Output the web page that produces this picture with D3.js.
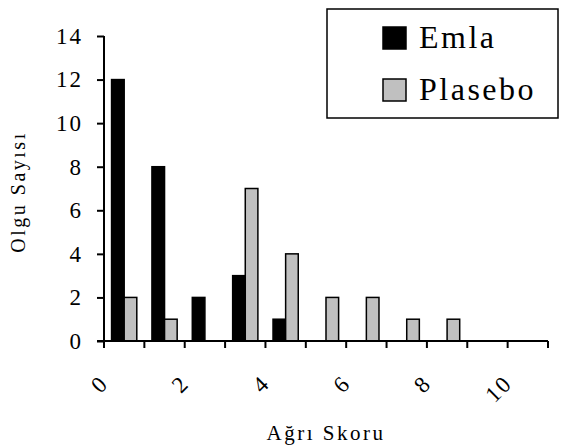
<!DOCTYPE html>
<html>
<head>
<meta charset="utf-8">
<script src="https://cdn.jsdelivr.net/npm/d3@7"></script>
<style>
  body { margin: 0; background: #fff; }
</style>
</head>
<body>
<script>
// data
var categories = [0, 1, 2, 3, 4, 5, 6, 7, 8, 9, 10];
var series = ["Emla", "Plasebo"];
var emla = [12, 8, 2, 3, 1, 0, 0, 0, 0, 0, 0];
var plasebo = [2, 1, 0, 7, 4, 2, 2, 1, 1, 0, 0];
var yTicks = [0, 2, 4, 6, 8, 10, 12, 14];
var xLabels = [0, 2, 4, 6, 8, 10];
var colors = { Emla: "#000000", Plasebo: "#c0c0c0" };

var width = 578, height = 446;
var margin = { top: 36, right: 30, bottom: 105, left: 104 };
var serif = "'Liberation Serif', 'Times New Roman', serif";

var svg = d3.select("body").append("svg")
    .attr("width", width)
    .attr("height", height);

var x = d3.scaleBand()
    .domain(categories)
    .range([margin.left, 548])
    .padding(0);

var x1 = d3.scaleBand()
    .domain(series)
    .range([0, x.bandwidth()])
    .paddingInner(0)
    .paddingOuter(0.6);

var y = d3.scaleLinear()
    .domain([0, 14])
    .range([341, margin.top]);

var rows = categories.map(function (c, i) {
    return { cat: c, values: [{ key: "Emla", v: emla[i] }, { key: "Plasebo", v: plasebo[i] }] };
});

// bars
var g = svg.append("g");
g.selectAll(".grp")
  .data(rows)
  .enter().append("g")
    .attr("class", "grp")
    .attr("transform", function (d) { return "translate(" + x(d.cat) + ",0)"; })
  .selectAll("rect")
  .data(function (d) { return d.values.filter(function (e) { return e.v > 0; }); })
  .enter().append("rect")
    .attr("x", function (d) { return x1(d.key); })
    .attr("y", function (d) { return y(d.v); })
    .attr("width", x1.bandwidth())
    .attr("height", function (d) { return y(0) - y(d.v); })
    .style("fill", function (d) { return colors[d.key]; })
    .style("stroke", "#000")
    .style("stroke-width", 1.5);

// y axis
var yAxis = svg.append("g")
    .attr("transform", "translate(" + margin.left + ",0)")
    .call(d3.axisLeft(y).tickValues(yTicks).tickSize(7).tickPadding(14).tickFormat(d3.format("d")));
yAxis.select(".domain").attr("stroke-width", 2).attr("d", "M0," + y(14) + "V" + y(0));
yAxis.selectAll(".tick line").attr("stroke-width", 2);
yAxis.selectAll(".tick text")
    .style("font-size", "23px")
    .style("letter-spacing", "2px");

// x axis: ticks at band edges
var edges = categories.map(function (c) { return x(c); }).concat([x.range()[1]]);
var xAxis = svg.append("g");
xAxis.append("line")
    .attr("x1", margin.left - 7).attr("x2", x.range()[1])
    .attr("y1", y(0)).attr("y2", y(0))
    .attr("stroke", "#000").attr("stroke-width", 2);
xAxis.selectAll(".xt")
  .data(edges)
  .enter().append("line")
    .attr("class", "xt")
    .attr("x1", function (d) { return d; }).attr("x2", function (d) { return d; })
    .attr("y1", y(0)).attr("y2", y(0) + 7)
    .attr("stroke", "#000").attr("stroke-width", 2);

xAxis.selectAll(".xl")
  .data(xLabels)
  .enter().append("text")
    .attr("class", "xl")
    .attr("transform", function (d) {
        return "translate(" + (x(d) + x.bandwidth() / 2 - 20) + ",379) rotate(-45)";
    })
    .attr("text-anchor", "end")
    .attr("dy", "0.35em")
    .style("font-size", "23px")
    .style("letter-spacing", "2px")
    .text(function (d) { return d; });

// titles
svg.append("text")
    .attr("x", 326).attr("y", 440)
    .attr("text-anchor", "middle")
    .style("font-size", "21px")
    .style("letter-spacing", "2.5px")
    .text("Ağrı Skoru");

svg.append("text")
    .attr("transform", "translate(25,192) rotate(-90)")
    .attr("text-anchor", "middle")
    .style("font-size", "20px")
    .style("letter-spacing", "2.5px")
    .text("Olgu Sayısı");

// legend
var leg = svg.append("g");
leg.append("rect")
    .attr("x", 327).attr("y", 9)
    .attr("width", 231).attr("height", 109)
    .attr("fill", "#fff").attr("stroke", "#000").attr("stroke-width", 1.5);

var li = leg.selectAll(".li")
  .data(series)
  .enter().append("g")
    .attr("class", "li")
    .attr("transform", function (d, i) { return "translate(383," + (27 + i * 52) + ")"; });
li.append("rect")
    .attr("width", 23).attr("height", 22)
    .style("fill", function (d) { return colors[d]; })
    .style("stroke", "#000").style("stroke-width", 1.5);
li.append("text")
    .attr("x", 36).attr("y", 21)
    .style("font-size", "32px")
    .style("letter-spacing", "2.5px")
    .text(function (d) { return d; });

// same serif face on every text
svg.selectAll("text").style("font-family", serif).style("fill", "#000");
</script>
</body>
</html>
